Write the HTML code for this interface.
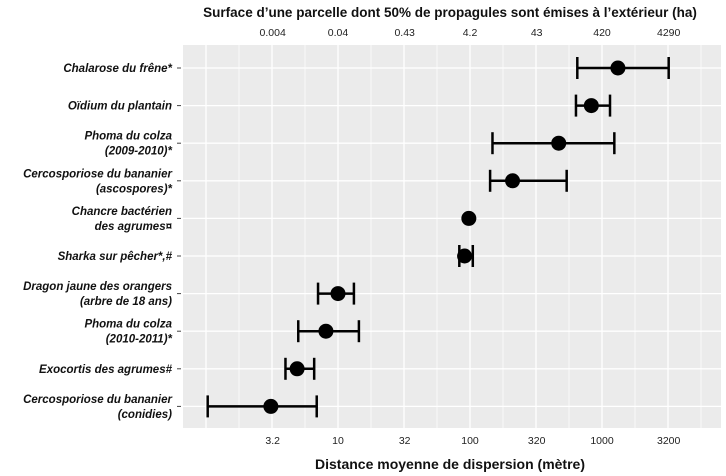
<!DOCTYPE html>
<html><head><meta charset="utf-8">
<style>
html,body{margin:0;padding:0;background:#fff;}
svg{display:block;font-family:"Liberation Sans",sans-serif;}
</style></head>
<body>
<svg id="chart" width="726" height="476" viewBox="0 0 726 476"></svg>
<script>
const categories = ["Chalarose du frêne*","Oïdium du plantain","Phoma du colza|(2009-2010)*","Cercosporiose du bananier|(ascospores)*","Chancre bactérien|des agrumes¤","Sharka sur pêcher*,#","Dragon jaune des orangers|(arbre de 18 ans)","Phoma du colza|(2010-2011)*","Exocortis des agrumes#","Cercosporiose du bananier|(conidies)"];
const centers = [1320, 830, 470, 210, 98, 91, 10, 8.1, 4.9, 3.1];
const lows = [650, 635, 148, 142, null, 83, 7.06, 5.0, 4.0, 1.03];
const highs = [3200, 1150, 1240, 540, null, 105, 13.2, 14.4, 6.6, 6.9];
const bottomTicks = [3.2, 10, 32, 100, 320, 1000, 3200];
const bottomLabels = ["3.2","10","32","100","320","1000","3200"];
const topLabels = ["0.004","0.04","0.43","4.2","43","420","4290"];

const NS="http://www.w3.org/2000/svg";
const svg=document.getElementById('chart');
const PL=183, PR=721, PT=45, PB=428;
function xs(v){return 338+(Math.log10(v)-1)*132;}
const rowStep=37.6;
function ys(i){return 68+rowStep*i;}
function mk(tag,attrs,parent){const e=document.createElementNS(NS,tag);for(const k in attrs)e.setAttribute(k,attrs[k]);(parent||svg).appendChild(e);return e;}

const bg=mk('rect',{x:PL,y:PT,width:PR-PL,height:PB-PT,fill:'#ebebeb'});



const grid=mk('g',{});


for(let l=-0.25;l<=4;l+=0.25){const x=338+(l-1)*132;if(x<PL||x>PR)continue;
 const major=Math.abs((l*2)-Math.round(l*2))<1e-6;
 mk('line',{x1:x,x2:x,y1:PT,y2:PB,stroke:'#fff','stroke-width':major?1.3:0.7},grid);}
categories.forEach((c,i)=>{mk('line',{x1:PL,x2:PR,y1:ys(i),y2:ys(i),stroke:'#fff','stroke-width':1.3},grid);});

bottomTicks.forEach((v,i)=>{
 const t=mk('text',{x:xs(v),y:444,'text-anchor':'middle','font-size':10.5,fill:'#222'});
 t.textContent=bottomLabels[i];
 
 
 const t2=mk('text',{x:xs(v),y:36,'text-anchor':'middle','font-size':10.5,fill:'#222'});
 t2.textContent=topLabels[i];
 
 
});

categories.forEach((c,i)=>{
 const parts=c.split('|');const y=ys(i);
 const t=mk('text',{x:172,'text-anchor':'end','font-size':11.5,'font-weight':'bold','font-style':'italic',fill:'#111'});
 
 
 parts.forEach((p,j)=>{const ts=mk('tspan',{x:172,y:y+4+(j-(parts.length-1)/2)*15},t);ts.textContent=p;});
 mk('line',{x1:177,x2:181,y1:y,y2:y,stroke:'#444','stroke-width':1});
});

categories.forEach((c,i)=>{
 const y=ys(i);
 const g=mk('g',{});
 
 
 if(lows[i]!=null){
  const a=xs(lows[i]),b=xs(highs[i]);
  mk('line',{x1:a,x2:b,y1:y,y2:y,stroke:'#000','stroke-width':2.5},g);
  mk('line',{x1:a,x2:a,y1:y-11,y2:y+11,stroke:'#000','stroke-width':2.5},g);
  mk('line',{x1:b,x2:b,y1:y-11,y2:y+11,stroke:'#000','stroke-width':2.5},g);
 }
 mk('circle',{cx:xs(centers[i]),cy:y,r:7.5,fill:'#000'},g);
});

const tt=mk('text',{x:450,y:17,'text-anchor':'middle','font-size':13.5,'font-weight':'bold',fill:'#111'});
tt.textContent="Surface d’une parcelle dont 50% de propagules sont émises à l’extérieur (ha)";


const bt=mk('text',{x:450,y:469,'text-anchor':'middle','font-size':14,'font-weight':'bold',fill:'#111'});
bt.textContent="Distance moyenne de dispersion (mètre)";


</script>
</body></html>
